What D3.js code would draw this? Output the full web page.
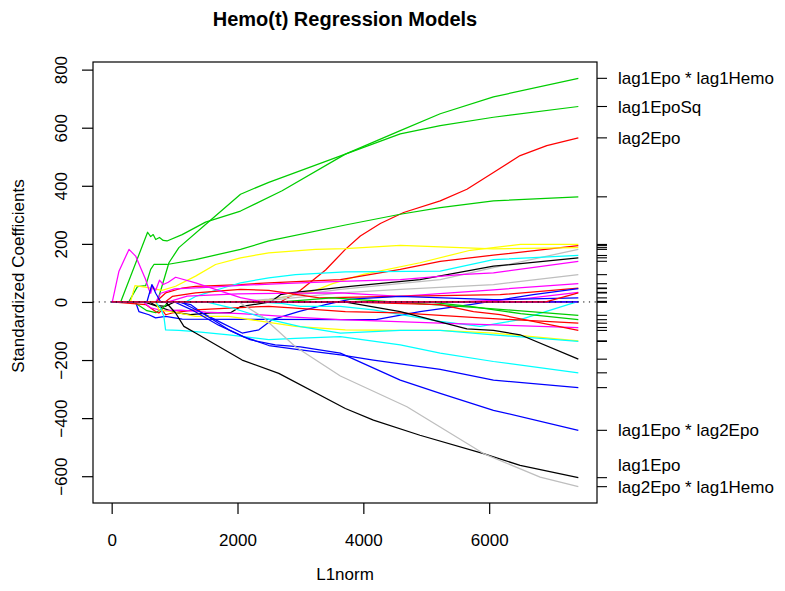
<!DOCTYPE html>
<html>
<head>
<meta charset="utf-8">
<script src="https://cdn.jsdelivr.net/npm/d3@7"></script>
<style>
  body { margin: 0; background: #fff; }
  text { font-family: "Liberation Sans", Arial, Helvetica, sans-serif; fill: #000; }
</style>
</head>
<body>
<div id="chart"></div>
<script>
// coefficient paths: [L1norm, standardized coefficient]
const pathG1 = [[0,0],[725,0],[910,135],[1068,187],[1492,267],[2048,371],[2497,412],[3714,509],[4587,590],[5222,648],[6068,706],[7417,770]]
const pathG2 = [[0,0],[143,0],[571,240],[620,225],[660,232],[700,215],[760,222],[820,212],[880,210],[1120,232],[1492,275],[2048,313],[2709,383],[3714,509],[4587,579],[5222,607],[6068,636],[7417,673]]
const pathR1 = [[0,0],[2683,0],[3000,40],[3400,110],[3714,181],[3952,227],[4270,270],[4640,308],[5222,348],[5646,388],[6068,446],[6492,504],[6916,538],[7417,565]]
const pathG3 = [[0,0],[270,0],[410,53],[540,56],[620,112],[672,129],[880,129],[1333,146],[2048,181],[2497,210],[3714,265],[4587,302],[5222,325],[6068,348],[7417,362]]
const pathY1 = [[0,0],[2300,0],[2700,15],[3238,40],[3500,62],[4000,95],[4900,135],[5700,178],[6500,198],[7417,198]]
const pathR2 = [[0,0],[700,0],[857,31],[1122,48],[1333,54],[2048,60],[2497,66],[3635,77],[4587,112],[5222,140],[6068,161],[7417,194]]
const pathY2 = [[0,0],[300,0],[370,56],[556,50],[800,40],[1016,54],[1333,89],[1651,129],[2048,152],[2497,169],[3238,181],[3714,184],[4587,195],[5222,190],[6068,183],[7417,187]]
const pathGR1 = [[0,0],[2000,0],[2500,10],[3000,25],[3635,43],[5222,77],[6068,118],[7417,181]]
const pathC1 = [[0,0],[1175,0],[1333,19],[1862,54],[2048,66],[2497,83],[2921,94],[3714,104],[5222,106],[6068,146],[7417,160]]
const pathK1 = [[0,0],[513,0],[1043,-38],[1254,-44],[1571,-38],[1889,-37],[2048,-16],[2524,0],[2683,25],[2841,31],[3794,54],[4900,77],[6068,123],[7417,152]]
const pathM1 = [[0,0],[700,0],[780,30],[1000,45],[1500,50],[2048,57],[2700,63],[3635,71],[4587,77],[5540,94],[6068,100],[7417,140]]
const pathGR2 = [[0,0],[2300,0],[2700,10],[3635,31],[4587,43],[6068,60],[7417,94]]
const pathM2 = [[0,0],[900,0],[1200,20],[2000,28],[3000,30],[3635,31],[4587,19],[6068,42],[7417,63]]
const pathR3 = [[0,0],[850,0],[963,19],[1333,31],[2048,43],[2497,40],[3300,14],[4500,19],[6175,25],[7417,48]]
const pathB1 = [[0,0],[380,0],[433,-33],[592,-44],[698,-55],[857,-50],[1122,-59],[2500,-60],[3714,-61],[4200,-61],[4900,-33],[5700,-9],[6700,25],[7417,46]]
const pathM3 = [[0,0],[5500,0],[6500,10],[7417,33]]
const pathB2 = [[0,0],[1050,0],[1254,-9],[1440,-38],[1700,-67],[2074,-107],[2340,-96],[2550,-61],[2970,-33],[3400,-9],[3800,10],[4587,19],[6068,8],[7417,14]]
const pathK2 = [[0,0],[600,0],[700,-12],[850,-15],[1000,0],[7417,0]]
const pathC2 = [[0,0],[2300,0],[2700,-5],[3000,-15],[3635,-15],[4160,-27],[5222,-67],[5857,-84],[6492,-61],[7417,2]]
const pathG4 = [[0,0],[350,0],[560,-30],[700,-37],[820,-20],[900,0],[2700,0],[3500,14],[5540,-15],[7417,-46]]
const pathG5 = [[0,0],[5000,0],[5700,-15],[6500,-40],[7417,-61]]
const pathR5 = [[0,0],[540,-9],[698,-33],[750,-38],[804,-27],[857,-44],[963,-38],[1333,-27],[1862,-21],[2497,-15],[2921,-21],[3714,-33],[4587,-38],[5857,-55],[7417,-73]]
const pathM4 = [[0,0],[500,0],[620,-20],[800,-30],[1100,-28],[1500,-35],[2048,-40],[2900,-52],[3635,-61],[5222,-73],[7417,-88]]
const pathR6 = [[0,0],[3635,0],[5222,-9],[5750,-33],[6175,-44],[7417,-98]]
const pathY3 = [[0,0],[700,0],[750,-27],[1069,-38],[1333,-50],[1862,-50],[2392,-67],[2921,-84],[3714,-96],[4587,-98],[5222,-98],[6068,-107],[7417,-134]]
const pathC3 = [[0,0],[1500,0],[1900,-20],[2500,-60],[3000,-85],[3635,-107],[4587,-98],[5222,-98],[6068,-113],[7417,-136]]
const pathK3 = [[0,0],[3700,0],[4587,-33],[5646,-93],[6068,-98],[6492,-113],[7417,-197]]
const pathC4 = [[0,0],[698,0],[778,-21],[830,-50],[857,-96],[1069,-98],[1333,-102],[1862,-113],[2497,-130],[2921,-125],[3635,-119],[4587,-148],[5222,-176],[6068,-205],[7417,-244]]
const pathB3 = [[0,0],[1000,0],[1300,-30],[1700,-80],[2100,-120],[2500,-150],[3000,-165],[3635,-182],[4160,-200],[5222,-232],[6068,-269],[7417,-295]]
const pathB4 = [[0,0],[1100,0],[1440,-38],[1862,-96],[2200,-130],[2600,-148],[3000,-155],[3635,-176],[4587,-269],[5222,-315],[6068,-373],[7417,-442]]
const pathK4 = [[0,0],[857,0],[1016,-38],[1148,-84],[1333,-107],[2074,-200],[2656,-246],[3714,-367],[4160,-407],[4900,-459],[5910,-522],[6492,-563],[7417,-605]]
const pathGR3 = [[0,0],[2021,0],[2392,-50],[2921,-154],[3635,-255],[4693,-361],[5910,-522],[6810,-603],[7417,-636]]
const pathM5 = [[0,0],[10,0],[116,106],[275,181],[381,158],[460,118],[540,77],[592,43],[620,30],[650,55],[700,40],[760,75],[820,60],[900,68],[1016,85],[1333,66],[2048,15],[2400,0],[7417,0]]
const pathB7 = [[0,0],[560,0],[640,60],[700,30],[780,0],[7417,0]]
const pathR4 = [[0,0],[6900,0],[7417,31]]

const xTicks = [0, 2000, 4000, 6000]
const yTicks = [-600, -400, -200, 0, 200, 400, 600, 800]

const palette = {black:"#000000", red:"#FF0000", green:"#00CD00", blue:"#0000FF",
                 cyan:"#00FFFF", magenta:"#FF00FF", yellow:"#FFFF00", gray:"#BEBEBE"}

const series = [
  {name:"lag1Epo * lag1Hemo", hue:"green", pts:pathG1},
  {name:"lag1EpoSq", hue:"green", pts:pathG2},
  {name:"lag2Epo", hue:"red", pts:pathR1},
  {name:"", hue:"green", pts:pathG3},
  {name:"", hue:"yellow", pts:pathY1},
  {name:"", hue:"red", pts:pathR2},
  {name:"", hue:"yellow", pts:pathY2},
  {name:"", hue:"gray", pts:pathGR1},
  {name:"", hue:"cyan", pts:pathC1},
  {name:"", hue:"black", pts:pathK1},
  {name:"", hue:"magenta", pts:pathM1},
  {name:"", hue:"gray", pts:pathGR2},
  {name:"", hue:"magenta", pts:pathM2},
  {name:"", hue:"red", pts:pathR3},
  {name:"", hue:"blue", pts:pathB1},
  {name:"", hue:"magenta", pts:pathM3},
  {name:"", hue:"blue", pts:pathB2},
  {name:"", hue:"black", pts:pathK2},
  {name:"", hue:"cyan", pts:pathC2},
  {name:"", hue:"green", pts:pathG4},
  {name:"", hue:"green", pts:pathG5},
  {name:"", hue:"red", pts:pathR5},
  {name:"", hue:"magenta", pts:pathM4},
  {name:"", hue:"red", pts:pathR6},
  {name:"", hue:"yellow", pts:pathY3},
  {name:"", hue:"cyan", pts:pathC3},
  {name:"", hue:"black", pts:pathK3},
  {name:"", hue:"cyan", pts:pathC4},
  {name:"", hue:"blue", pts:pathB3},
  {name:"lag1Epo * lag2Epo", hue:"blue", pts:pathB4},
  {name:"lag1Epo", hue:"black", pts:pathK4},
  {name:"lag2Epo * lag1Hemo", hue:"gray", pts:pathGR3},
  {name:"", hue:"magenta", pts:pathM5},
  {name:"", hue:"blue", pts:pathB7},
  {name:"", hue:"red", pts:pathR4}
]

drawChart("#chart")

function drawChart(id){
  const canvas = {width:785, height:591, margin:{top:62, right:188, bottom:88, left:93}}
  const svg = d3.select(id).append("svg").attr("width",canvas.width).attr("height",canvas.height)
  const sc = addScales(canvas)
  addLines(svg, sc)
  addZeroLine(svg, sc)
  addAxes(svg, sc, canvas)
  addRightAxis(svg, sc, canvas)
  addLabels(svg, canvas)
}

function addScales(canvas){
  const allPts = series.flatMap(s => s.pts)
  const xExt = d3.extent(allPts, p => p[0])
  const yExt = d3.extent(allPts, p => p[1])
  const xPad = (xExt[1]-xExt[0])*0.04, yPad = (yExt[1]-yExt[0])*0.04
  const xScale = d3.scaleLinear().domain([xExt[0]-xPad, xExt[1]+xPad])
    .range([canvas.margin.left, canvas.width - canvas.margin.right])
  const yScale = d3.scaleLinear().domain([yExt[0]-yPad, yExt[1]+yPad])
    .range([canvas.height - canvas.margin.bottom, canvas.margin.top])
  return {xScale, yScale}
}

function addLines(svg, sc){
  const line = d3.line().x(p => sc.xScale(p[0])).y(p => sc.yScale(p[1]))
  svg.append("g").selectAll("path").data(series).enter().append("path")
    .attr("fill","none").attr("stroke", d => palette[d.hue])
    .attr("stroke-width",1.25).attr("stroke-linejoin","round")
    .attr("d", d => line(d.pts))
}

function addZeroLine(svg, sc){
  const [x0, x1] = sc.xScale.range()
  svg.append("line").attr("x1",x0).attr("x2",x1)
    .attr("y1",sc.yScale(0)).attr("y2",sc.yScale(0))
    .attr("stroke","#000").attr("stroke-width",1).attr("stroke-dasharray","1.2 4.5")
}

function addAxes(svg, sc, canvas){
  const [x0, x1] = sc.xScale.range()
  const [y0, y1] = sc.yScale.range()
  svg.append("rect").attr("x",x0).attr("y",y1).attr("width",x1-x0).attr("height",y0-y1)
    .attr("fill","none").attr("stroke","#000").attr("stroke-width",1.2)

  const xa = svg.append("g").attr("transform",`translate(0,${y0})`)
    .call(d3.axisBottom(sc.xScale).tickValues(xTicks).tickSize(11).tickPadding(20).tickFormat(d3.format("d")))
  xa.select(".domain").remove()
  xa.selectAll("line").attr("stroke-width",1.2)
  xa.selectAll("text").attr("font-size","17px").attr("fill","#000")
    .attr("font-family","Liberation Sans, Arial, sans-serif")

  const ya = svg.append("g").attr("transform",`translate(${x0},0)`)
    .call(d3.axisLeft(sc.yScale).tickValues(yTicks).tickSize(11).tickFormat(d => d < 0 ? "\u2212" + Math.abs(d) : d))
  ya.select(".domain").remove()
  ya.selectAll("line").attr("stroke-width",1.2)
  ya.selectAll("text").attr("font-size","17px").attr("fill","#000")
    .attr("font-family","Liberation Sans, Arial, sans-serif")
    .attr("text-anchor","middle").attr("dy",null).attr("x",null)
    .attr("transform","translate(-26,0) rotate(-90)")
}

function addRightAxis(svg, sc, canvas){
  const x1 = sc.xScale.range()[1]
  const ends = series.map(s => ({name:s.name, v:s.pts[s.pts.length-1][1]}))
  svg.append("g").selectAll("line").data(ends).enter().append("line")
    .attr("x1",x1).attr("x2",x1+10)
    .attr("y1",d => sc.yScale(d.v)).attr("y2",d => sc.yScale(d.v))
    .attr("stroke","#000").attr("stroke-width",1.1)

  // keep labels apart, pushing the upper one of a crowded pair upward
  const labs = ends.filter(d => d.name).map(d => ({name:d.name, y:sc.yScale(d.v)}))
    .sort((a,b) => b.y - a.y)
  for(let i = 1; i < labs.length; i++){
    if(labs[i-1].y - labs[i].y < 22) labs[i].y = labs[i-1].y - 22
  }
  svg.append("g").selectAll("text").data(labs).enter().append("text")
    .attr("x",x1+21).attr("y",d => d.y).attr("dy","0.36em")
    .attr("font-size","17px").text(d => d.name)
}

function addLabels(svg, canvas){
  svg.append("text").attr("x",345).attr("y",26).attr("text-anchor","middle")
    .attr("font-size","20px").attr("font-weight","bold").text("Hemo(t) Regression Models")

  svg.append("text").attr("x",345).attr("y",580).attr("text-anchor","middle")
    .attr("font-size","17px").text("L1norm")

  svg.append("text").attr("transform","translate(24,276) rotate(-90)").attr("text-anchor","middle")
    .attr("font-size","17px").text("Standardized Coefficients")
}
</script>
</body>
</html>
